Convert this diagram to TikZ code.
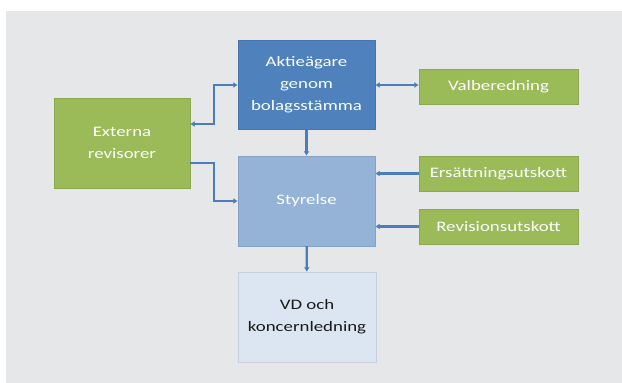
\documentclass[tikz,border=0pt]{standalone}
\usepackage{fontspec}
\setmainfont[FakeStretch=1.3]{Carlito}
\usepackage{tikz}
\usetikzlibrary{arrows.meta}
\definecolor{bgcol}{HTML}{E6E7E8}
\definecolor{darkblue}{HTML}{4F81BD}
\definecolor{midblue}{HTML}{95B3D7}
\definecolor{paleblue}{HTML}{DCE6F2}
\definecolor{leafgreen}{HTML}{9BBB59}
\definecolor{linkblue}{HTML}{4A7EBB}
\tikzset{
	box/.style={rectangle, minimum width=137pt, minimum height=89pt, align=center, inner sep=2pt,
		font=\fontsize{14.5}{22}\selectfont, text=white, draw=#1!90!black, line width=0.4pt, fill=#1},
	tab/.style={box=leafgreen, minimum width=159pt, minimum height=35pt},
	link/.style={draw=linkblue, line width=2.4pt, arrows={-Latex[length=4.5pt,width=6pt]}},
	twoway/.style={link, arrows={Latex[length=4.5pt,width=6pt]-Latex[length=4.5pt,width=6pt]}}
}
\begin{document}
\begin{tikzpicture}[x=1pt,y=-1pt]
		\useasboundingbox (0,0) rectangle (622,383);
		\fill[bgcol] (6,11) rectangle (622,383);
		% boxes
		\node[box=darkblue] (agare) at (306.5,85) {Aktieägare\\genom\\bolagsstämma};
		\node[box=midblue, minimum height=90pt] (styrelse) at (306.5,201) {Styrelse};
		\node[box=paleblue, text=black!90, minimum width=138pt, minimum height=90pt] (vd) at (307,317) {VD och\\koncernledning};
		\node[box=leafgreen, minimum width=136pt, minimum height=90pt] (externa) at (122,143) {Externa\\revisorer};
		\node[tab] (valb) at (498.5,87) {Valberedning};
		\node[tab] (ersutsk) at (498.5,173.5) {Ersättningsutskott};
		\node[tab] (revutsk) at (498.5,226.5) {Revisionsutskott};
		% connectors
		\draw[twoway] ([yshift=19pt]externa.east) -- ++(24,0) |- (agare.west);
		\draw[link] ([yshift=-20pt]externa.east) -- ++(24,0) |- (styrelse.west);
		\draw[twoway] (agare.east) -- (agare.east -| valb.west);
		\draw[link] (agare) -- (styrelse);
		\draw[link] (ersutsk.west) -- (ersutsk.west -| styrelse.east);
		\draw[link] (revutsk.west) -- (revutsk.west -| styrelse.east);
		\draw[link] (styrelse) -- (vd);
	\end{tikzpicture}
\end{document}
